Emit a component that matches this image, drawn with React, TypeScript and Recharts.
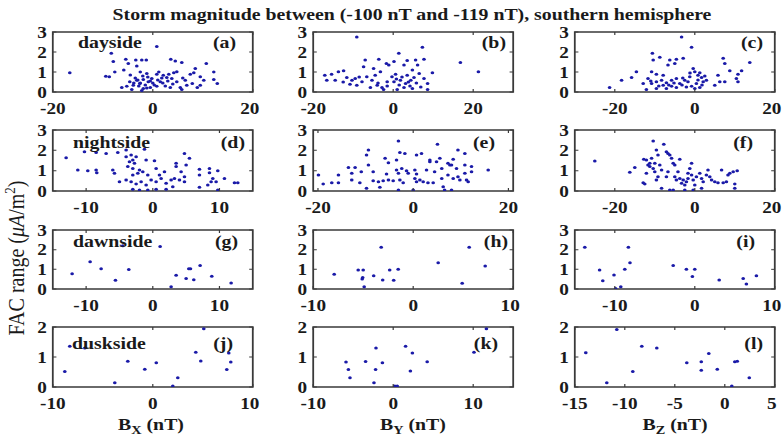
import { ScatterChart, Scatter, XAxis, YAxis, ReferenceArea } from 'recharts';

// the reference figure is stretched sideways, so the whole page is drawn narrower and scaled by S
const S = 1.2;
const SERIF = '"Liberation Serif", "Times New Roman", serif';
const BOX = '#3a3a3a';
const DOT = '#1a1aa8';

// [Bx/By/Bz (nT), FAC range (uA/m2)]
const dayBx = [
  [-16.6, 0.96], [0.8, 2.28], [-8.3, 1.94], [-7.9, 1.52], [-5.4, 1.64], [-4.9, 1.43], [-3.4, 1.6], [-2.2, 1.6],
  [-1.3, 1.6], [-3.2, 1.3], [3.6, 1.64], [4.5, 1.55], [5.8, 1.47], [10.7, 1.43], [8.5, 1.18], [12.2, 1.0],
  [-7.6, 1.0], [-9.4, 0.79], [-8.7, 0.76], [-5.8, 1.1], [-2.5, 1.0], [-1.2, 0.93], [0.8, 0.89], [2.1, 0.84],
  [3.2, 0.89], [4.2, 0.96], [4.8, 1.01], [2.8, 0.73], [3.8, 0.67], [1.5, 0.51], [4.8, 0.51], [6.5, 0.59],
  [7.5, 0.89], [8.2, 0.96], [9.5, 0.76], [10.2, 0.59], [12.2, 0.62], [12.9, 0.42], [9.5, 0.34], [6.8, 0.34],
  [5.5, 0.22], [3.5, 0.22], [0.8, 0.29], [-0.5, 0.22], [-1.9, 0.17], [-2.6, 0.42], [-3.9, 0.34], [-5.2, 0.29],
  [-6.2, 0.22], [-4.6, 0.51], [-3.2, 0.59], [-1.9, 0.62], [-0.9, 0.51], [-0.2, 0.67], [-4.2, 0.12], [-2.2, 0.08],
  [5.8, 0.12], [7.9, 0.42], [8.9, 0.22], [-3, 0.6], [-2.5, 0.45], [-1.5, 0.35], [-3.5, 0.7], [-2, 0.8],
  [1, 0.6], [2, 0.45], [3, 0.55], [0, 0.45], [-1, 0.75], [-2.8, 0.3], [-1.2, 0.2], [0.3, 0.35],
  [1.8, 0.7], [2.5, 0.3], [4, 0.4], [-3.8, 0.45], [-0.5, 0.55], [6, 0.7], [1.2, 1.0], [-4.5, 0.85],
];
const dayBy = [
  [-9.1, 2.75], [7.3, 2.24], [1.4, 1.94], [16.8, 1.47], [21.3, 1.01], [-7.0, 1.6], [-3.6, 1.64], [-1.7, 1.43],
  [0.2, 1.52], [3.5, 1.57], [5.6, 1.6], [7.7, 1.64], [2.7, 1.35], [6.1, 1.35], [-7.4, 1.26], [-4.9, 1.18],
  [-3.2, 1.01], [-17.1, 0.84], [-15.4, 0.89], [-13.7, 1.01], [-12.4, 1.06], [-16.6, 0.59], [-14.5, 0.59], [-11.6, 0.73],
  [-10.3, 0.59], [-9.1, 0.34], [-7.8, 0.51], [-6.6, 0.76], [-5.3, 0.59], [-4.0, 0.34], [-2.8, 0.22], [-1.5, 0.51],
  [-0.3, 0.76], [0.6, 0.89], [1.8, 0.59], [3.1, 0.42], [4.4, 0.59], [5.2, 0.73], [6.5, 0.93], [7.7, 0.67],
  [8.6, 0.42], [9.8, 0.96], [6.9, 0.25], [4.8, 0.17], [2.7, 0.22], [1.0, 0.12], [8.6, 0.12], [-5.7, 0.22],
  [-2.4, 0.12], [-10.8, 0.39], [-9.5, 0.67], [-4.5, 0.84], [0.2, 0.51], [3.5, 0.84], [4.8, 1.1], [-1.1, 1.35],
  [-3.8, 0.45], [-1.5, 0.3], [1.5, 0.35], [2.2, 0.75], [3.8, 0.5], [5.8, 0.45], [-12.5, 0.5], [-8.5, 0.75],
  [0.8, 0.65], [4.2, 0.3],
];
const dayBz = [
  [-21.3, 0.22], [-18.3, 0.59], [-15.8, 0.73], [-14.6, 1.01], [-3.3, 2.75], [-0.8, 2.24], [-10.6, 1.94], [-10.4, 1.6],
  [-8.75, 1.74], [-6.25, 1.6], [-4.6, 1.64], [-2.9, 1.69], [-6.7, 1.35], [-5.0, 1.43], [7.1, 1.69], [7.5, 1.43],
  [13.75, 1.47], [8.75, 1.06], [11.7, 1.06], [10.8, 0.89], [10.4, 0.67], [10.8, 0.51], [5.8, 0.84], [6.25, 0.51],
  [7.5, 0.51], [5.0, 0.34], [-10.8, 1.01], [-9.6, 0.89], [-7.9, 0.84], [-11.7, 0.67], [-12.9, 0.42], [-10.8, 0.42],
  [-9.6, 0.51], [-8.3, 0.59], [-7.1, 0.46], [-5.8, 0.59], [-4.6, 0.67], [-3.75, 0.42], [-2.5, 0.59], [-1.25, 0.76],
  [-0.4, 1.18], [0, 1.01], [0.8, 0.84], [1.7, 0.73], [2.1, 0.51], [0.4, 0.42], [-0.8, 0.29], [0, 0.17],
  [1.25, 0.22], [-2.1, 0.25], [-4.6, 0.22], [-7.1, 0.17], [-9.6, 0.17], [-12.1, 0.12], [-7.9, 0.34], [-5.8, 0.29],
  [-1.7, 0.51], [2.9, 0.59], [1.25, 0.96], [-3.2, 0.35], [-5.2, 0.45], [-6.5, 0.35], [-9, 0.3], [0.8, 0.6],
  [1.8, 0.35], [-1.2, 0.95], [-3, 0.7], [2.5, 0.8], [-11, 0.55],
];
const nightBx = [
  [-13, 1.64], [-11.25, 1.03], [-9.75, 1.0], [-8.5, 1.03], [-8.4, 0.9], [-10.25, 1.93], [-8.5, 1.89], [-7, 1.85],
  [-5.25, 1.89], [-4, 2.02], [-6, 1.03], [-5.75, 0.87], [-4, 1.69], [-3.25, 1.77], [-3, 1.52], [-2.75, 1.36],
  [-3.5, 1.44], [-2.5, 1.69], [-3.75, 1.2], [-3, 1.11], [-2, 1.03], [-1, 1.52], [0.25, 1.49], [-1.25, 2.05],
  [-3, 0.79], [-2.25, 0.87], [-1.5, 0.95], [-0.75, 0.79], [0.5, 1.11], [1, 0.79], [1.75, 0.95], [-5, 0.46],
  [-4, 0.54], [-3.25, 0.46], [-2.5, 0.34], [-1.75, 0.46], [-1, 0.3], [-0.25, 0.54], [0.5, 0.46], [1.25, 0.62],
  [2, 0.38], [2.75, 0.54], [3.25, 0.62], [4, 0.54], [4.75, 0.7], [4.25, 0.95], [3.5, 1.2], [3.5, 1.36],
  [4.75, 1.85], [5.5, 1.61], [5, 1.28], [4.75, 0.46], [3, 0.21], [2, 0.08], [0.5, 0.08], [-0.75, 0.05],
  [-2, 0.05], [-3, 0.08], [7, 1.07], [7, 0.79], [7, 0.18], [8.5, 1.11], [8.5, 0.9], [9.75, 1.0],
  [9, 0.62], [8.75, 0.46], [8.25, 0.3], [9.5, 0.46], [9.75, 0.05], [10.75, 0.62], [12.25, 0.41], [12.75, 0.41],
];
const nightBy = [
  [-19.9, 0.79], [-18.9, 0.34], [-17.1, 0.41], [-15.7, 0.41], [-15.7, 0.79], [-13.6, 1.16], [-12.2, 1.16], [-12.9, 0.87],
  [-12.9, 0.54], [-11.2, 0.41], [-10.9, 0.95], [-9.8, 1.77], [-9.4, 2.02], [-9.4, 1.28], [-9.8, 0.13], [-8.4, 0.95],
  [-8.4, 0.51], [-7.3, 0.46], [-7, 0.18], [-5.9, 1.61], [-5.2, 1.39], [-5.6, 0.84], [-5.2, 0.54], [-6.3, 0.51],
  [-4.2, 0.51], [-3.5, 1.52], [-3.1, 2.46], [-2.8, 1.89], [-1.75, 1.85], [-3.5, 1.03], [-3.1, 0.87], [-2.4, 1.11],
  [-2.8, 0.54], [-2.1, 0.41], [-1.05, 0.87], [-1.4, 1.0], [0.7, 1.77], [1.75, 1.85], [0.35, 1.03], [0.7, 0.84],
  [0.35, 0.62], [0.7, 0.46], [1.4, 0.54], [2.1, 0.46], [0, 0.05], [-3.1, 0.05], [2.8, 1.03], [3.5, 1.52],
  [3.5, 1.44], [3.1, 0.41], [4.2, 0.41], [4.5, 0.95], [4.9, 1.44], [5.1, 2.3], [5.6, 1.61], [6, 1.11],
  [6, 0.62], [6.3, 0.21], [6.6, 0.05], [7.3, 1.36], [7.7, 1.28], [7.3, 0.79], [8.05, 1.28], [8.4, 0.62],
  [8.05, 0.05], [9.1, 1.11], [9.4, 0.7], [9.4, 2.02], [9.8, 0.54], [10.85, 1.85], [10.85, 1.28], [11.2, 0.54],
  [10.85, 0.87], [12.25, 1.2], [12.25, 0.95], [11.55, 0.46], [15.75, 1.03], [8.4, 1.56],
];
const nightBz = [
  [-25, 1.48], [-16.25, 0.92], [-15, 1.16], [-12.9, 0.41], [-12.5, 0.34], [-12.75, 1.56], [-12.1, 1.52], [-12.1, 0.87],
  [-11.25, 1.36], [-11.25, 1.2], [-11.7, 1.28], [-10.8, 1.61], [-10.4, 2.46], [-10.4, 1.11], [-10, 0.95], [-9.6, 2.02],
  [-9.2, 1.77], [-10, 1.36], [-8.75, 1.28], [-8.3, 1.03], [-9.6, 0.54], [-9.2, 0.7], [-8.3, 0.13], [-7.75, 2.3],
  [-7.1, 1.93], [-6.7, 1.85], [-6.25, 1.77], [-5.8, 1.61], [-5.4, 1.36], [-5, 1.28], [-6.7, 0.95], [-7.1, 0.7],
  [-6.25, 0.05], [-5.4, 0.05], [-5, 0.7], [-4.6, 0.54], [-4.2, 0.95], [-3.75, 1.56], [-3.75, 0.62], [-3.3, 0.38],
  [-2.9, 0.54], [-2.5, 0.3], [-2.1, 0.46], [-2.5, 0.05], [-1.7, 0.62], [-1.7, 0.87], [-1.25, 1.11], [-0.8, 1.36],
  [-0.8, 0.79], [-0.4, 0.54], [-0.4, 0.05], [0, 0.3], [0.4, 0.7], [1.25, 0.87], [1.7, 0.62], [2.1, 0.46],
  [1.7, 0.13], [2.9, 0.79], [3.3, 1.03], [3.75, 0.7], [4.2, 0.54], [5, 0.46], [5.8, 0.41], [6.7, 1.03],
  [7.1, 0.41], [7.9, 0.46], [8.3, 0.79], [8.75, 0.87], [9.6, 0.95], [10.6, 1.0], [10, 0.34], [10, 0.13],
];
const dawnBx = [
  [-12.1, 0.77], [-9.4, 1.38], [-7.75, 1.03], [-5.6, 0.44], [-4.5, 2.2], [-3.6, 0.99], [1.1, 2.16], [2.75, 0.12],
  [3.5, 0.7], [5, 0.54], [5.4, 1.03], [5.65, 1.03], [6.15, 0.47], [7.1, 1.2], [8.85, 0.65], [11.75, 0.3],
];
const dawnBy = [
  [-7.9, 0.75], [-5.5, 0.97], [-5, 0.97], [-5.05, 0.58], [-5.1, 0.51], [-4.9, 0.12], [-3.95, 0.68], [-3.2, 2.12],
  [-3.05, 0.46], [-2.35, 0.97], [-1.95, 0.44], [-1.5, 1.0], [2.5, 1.34], [4.9, 0.29], [5.6, 2.12], [7.2, 1.17],
];
const dawnBz = [
  [-13.75, 2.12], [-11.9, 0.97], [-11.5, 0.42], [-10.1, 0.71], [-9.9, 0.03], [-9.25, 0.12], [-8.75, 1.0], [-8.3, 2.12],
  [-8.1, 1.34], [-2.7, 1.19], [-1.05, 1.0], [-0.3, 0.63], [0, 1.0], [3.05, 0.46], [6.05, 0.54], [6.45, 0.25],
  [7.7, 0.68],
];
const duskBx = [
  [-8.8, 0.52], [-8.3, 1.36], [-6.8, 1.3], [-3.8, 0.14], [-2.5, 0.86], [-0.8, 0.59], [0.35, 0.81], [2.0, 0.03],
  [2.5, 0.31], [4.3, 1.16], [4.8, 0.87], [5.1, 1.94], [7.4, 0.58], [7.6, 1.13], [7.8, 0.83],
];
const duskBy = [
  [-5.9, 0.83], [-5.6, 0.58], [-5.4, 0.31], [-3.45, 0.85], [-2.4, 0.14], [-2.2, 0.58], [-2.15, 1.3], [-1.35, 0.81],
  [0.2, 0.03], [0.5, 0.03], [1.55, 1.36], [2.15, 0.53], [2.4, 1.13], [4.25, 0.84], [10.1, 1.16], [11.65, 1.94],
];
const duskBz = [
  [-13.9, 1.14], [-11.8, 0.14], [-10.8, 1.92], [-9.2, 0.52], [-8.3, 1.36], [-6.8, 1.3], [-3.8, 0.81], [-2.35, 0.84],
  [-2.35, 0.56], [-1.6, 1.12], [-0.75, 0.59], [0.7, 0.03], [1.0, 0.84], [1.25, 0.86], [2.45, 0.31],
];

const ticks20 = [-20, 0, 20];
const ticks10 = [-10, 0, 10];
const ticksBz = [-15, -10, -5, 0, 5];
const yTicks3 = [0, 1, 2, 3];
const yTicks2 = [0, 1, 2];

// layout in reference pixels
const COLS = [[53, 253], [313, 513], [575, 775]];
const ROWS = [[32, 92], [130, 191], [230, 289], [327, 387]];
const LABEL_Y = [43, 143, 242, 344];
const SIDE_X = [78, 73, 73, 72];

const panels = [
  { data: dayBx, xDomain: [-20, 20], xTicks: ticks20, yMax: 3, yTicks: yTicks3, row: 0, col: 0, letter: '(a)', gap: 17 },
  { data: dayBy, xDomain: [-20, 30], xTicks: ticks20, yMax: 3, yTicks: yTicks3, row: 0, col: 1, letter: '(b)', gap: 7 },
  { data: dayBz, xDomain: [-30, 20], xTicks: ticks20, yMax: 3, yTicks: yTicks3, row: 0, col: 2, letter: '(c)', gap: 12 },
  { data: nightBx, xDomain: [-15, 15], xTicks: ticks10, yMax: 3, yTicks: yTicks3, row: 1, col: 0, letter: '(d)', gap: 8 },
  { data: nightBy, xDomain: [-21, 21], xTicks: ticks20, yMax: 3, yTicks: yTicks3, row: 1, col: 1, letter: '(e)', gap: 18 },
  { data: nightBz, xDomain: [-30, 20], xTicks: ticks20, yMax: 3, yTicks: yTicks3, row: 1, col: 2, letter: '(f)', gap: 22 },
  { data: dawnBx, xDomain: [-15, 15], xTicks: ticks10, yMax: 3, yTicks: yTicks3, row: 2, col: 0, letter: '(g)', gap: 15 },
  { data: dawnBy, xDomain: [-10, 10], xTicks: ticks10, yMax: 3, yTicks: yTicks3, row: 2, col: 1, letter: '(h)', gap: 5 },
  { data: dawnBz, xDomain: [-15, 10], xTicks: ticks10, yMax: 3, yTicks: yTicks3, row: 2, col: 2, letter: '(i)', gap: 20 },
  { data: duskBx, xDomain: [-10, 10], xTicks: ticks10, yMax: 2, yTicks: yTicks2, row: 3, col: 0, letter: '(j)', gap: 20 },
  { data: duskBy, xDomain: [-10, 15], xTicks: ticks10, yMax: 2, yTicks: yTicks2, row: 3, col: 1, letter: '(k)', gap: 15 },
  { data: duskBz, xDomain: [-15, 5], xTicks: ticksBz, yMax: 2, yTicks: yTicks2, row: 3, col: 2, letter: '(l)', gap: 12 },
];
const sideNames = ['dayside', 'nightside', 'dawnside', 'duskside'];

const PAD_L = 30;
const PAD_R = 8;
const PAD_T = 8;
const PAD_B = 28;
const MARGIN_X = 11;
const MARGIN_Y = 5;
const TICK_FONT = 16;

const XTick = (props: any) => {
  const { x, y, payload, boxH, chartW } = props;
  const base = y - MARGIN_X;
  // keep the last label of the right column inside the page
  const tx = Math.min(x, chartW - 10.5);
  return (
    <g>
      <line x1={x} x2={x} y1={base} y2={base - 3} stroke={BOX} />
      <line x1={x} x2={x} y1={base - boxH} y2={base - boxH + 3} stroke={BOX} />
      <text x={tx} y={y} dy="0.71em" textAnchor="middle" fontSize={TICK_FONT} fontWeight="bold" fill="#1a1a1a" fontFamily={SERIF}>
        {payload.value}
      </text>
    </g>
  );
};

const YTick = (props: any) => {
  const { x, y, payload, boxW } = props;
  const base = x + MARGIN_Y;
  return (
    <g>
      <line x1={base} x2={base + 3} y1={y} y2={y} stroke={BOX} />
      <line x1={base + boxW} x2={base + boxW - 3} y1={y} y2={y} stroke={BOX} />
      <text x={x} y={y} dy="0.36em" textAnchor="end" fontSize={TICK_FONT} fontWeight="bold" fill="#1a1a1a" fontFamily={SERIF}>
        {payload.value}
      </text>
    </g>
  );
};

const Dot = (props: any) => <circle cx={props.cx} cy={props.cy} r={1.5} fill={DOT} />;

function Panel({ p }: { p: any }) {
  const [left, right] = COLS[p.col];
  const [top, bottom] = ROWS[p.row];
  const w = (right - left) / S;
  const h = bottom - top;
  const chartW = w + PAD_L + PAD_R;
  const points = p.data.map(([x, y]: number[]) => ({ x, y }));
  return (
    <div style={{ position: 'absolute', left: left / S - PAD_L, top: top - PAD_T }}>
      <ScatterChart width={chartW} height={h + PAD_T + PAD_B} margin={{ top: PAD_T, right: PAD_R, bottom: 0, left: 0 }}>
        <XAxis
          type="number"
          dataKey="x"
          domain={p.xDomain}
          ticks={p.xTicks}
          interval={0}
          allowDataOverflow
          height={PAD_B}
          axisLine={false}
          tickLine={false}
          tickSize={0}
          tickMargin={MARGIN_X}
          tick={(t: any) => <XTick {...t} boxH={h} chartW={chartW} />}
        />
        <YAxis
          type="number"
          dataKey="y"
          domain={[0, p.yMax]}
          ticks={p.yTicks}
          interval={0}
          allowDataOverflow
          width={PAD_L}
          axisLine={false}
          tickLine={false}
          tickSize={0}
          tickMargin={MARGIN_Y}
          tick={(t: any) => <YTick {...t} boxW={w} />}
        />
        <ReferenceArea x1={p.xDomain[0]} x2={p.xDomain[1]} y1={0} y2={p.yMax} fill="none" stroke={BOX} strokeWidth={1.5} ifOverflow="visible" />
        <Scatter data={points} shape={Dot} isAnimationActive={false} />
      </ScatterChart>
    </div>
  );
}

function Label({ x, y, anchor = 'start', size = 16, bold = true, children }: any) {
  const tx = anchor === 'middle' ? '-50%' : anchor === 'end' ? '-100%' : '0';
  return (
    <div
      style={{
        position: 'absolute',
        left: x / S,
        top: y,
        transform: `translate(${tx}, -50%)`,
        fontFamily: SERIF,
        fontSize: size,
        fontWeight: bold ? 'bold' : 'normal',
        color: '#1a1a1a',
        whiteSpace: 'nowrap',
        lineHeight: 1,
      }}
    >
      {children}
    </div>
  );
}

export default function App() {
  return (
    <div style={{ position: 'absolute', left: 0, top: 0, width: 783, height: 441, overflow: 'hidden', background: '#fff' }}>
      <div style={{ position: 'absolute', left: 0, top: 0, width: 783 / S, height: 441, transform: `scaleX(${S})`, transformOrigin: '0 0' }}>
        {panels.map((p, i) => (
          <Panel key={i} p={p} />
        ))}
        {panels.map((p, i) => (
          <Label key={'l' + i} x={COLS[p.col][1] - p.gap} y={LABEL_Y[p.row]} anchor="end" size={16.5}>
            {p.letter}
          </Label>
        ))}
        {sideNames.map((s, i) => (
          <Label key={'s' + i} x={SIDE_X[i]} y={LABEL_Y[i]} size={16.5}>
            {s}
          </Label>
        ))}
        <Label x={412} y={15} anchor="middle" size={16.5}>
          Storm magnitude between (-100 nT and -119 nT), southern hemisphere
        </Label>
        <Label x={151} y={427} anchor="middle" size={16.5}>
          B<sub style={{ fontSize: '0.72em' }}>X</sub> (nT)
        </Label>
        <Label x={413} y={427} anchor="middle" size={16.5}>
          B<sub style={{ fontSize: '0.72em' }}>Y</sub> (nT)
        </Label>
        <Label x={675} y={427} anchor="middle" size={16.5}>
          B<sub style={{ fontSize: '0.72em' }}>Z</sub> (nT)
        </Label>
        <div
          style={{
            position: 'absolute',
            left: 15 / S,
            top: 258,
            transform: 'translate(-50%, -50%) rotate(-90deg)',
            fontFamily: SERIF,
            fontSize: 20,
            color: '#1a1a1a',
            whiteSpace: 'nowrap',
            lineHeight: 1.1,
          }}
        >
          FAC range (<i>μA</i>/m<sup style={{ fontSize: '0.65em', lineHeight: 0 }}>2</sup>)
        </div>
      </div>
    </div>
  );
}
